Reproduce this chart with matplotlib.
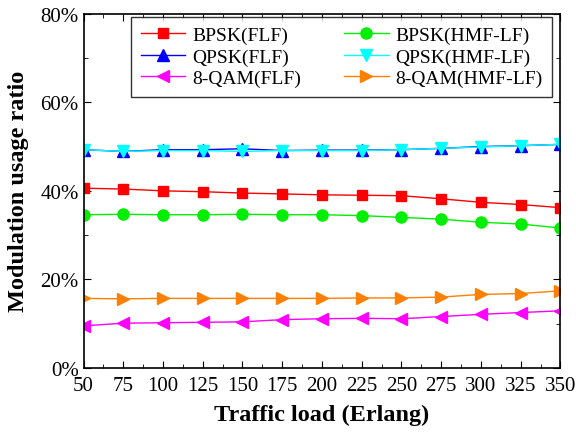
import numpy as np
import matplotlib
matplotlib.use("Agg")
import matplotlib.pyplot as plt
from matplotlib.ticker import MultipleLocator, PercentFormatter

plt.rcParams['font.family'] = ['Liberation Serif', 'DejaVu Serif']

load = [50, 75, 100, 125, 150, 175, 200, 225, 250, 275, 300, 325, 350]

# modulation usage ratio (%)
bpsk_flf = [40.6, 40.4, 40.0, 39.8, 39.5, 39.3, 39.1, 39.0, 38.9, 38.2, 37.4, 36.9, 36.2]
bpsk_hmf = [34.6, 34.7, 34.6, 34.6, 34.7, 34.6, 34.6, 34.4, 34.0, 33.6, 32.9, 32.5, 31.6]
qpsk_flf = [49.3, 48.9, 49.3, 49.3, 49.5, 49.1, 49.2, 49.2, 49.3, 49.6, 50.0, 50.2, 50.5]
qpsk_hmf = [49.3, 48.9, 49.1, 49.1, 48.9, 49.1, 49.1, 49.1, 49.3, 49.6, 49.9, 50.2, 50.5]
qam8_flf = [9.5, 10.1, 10.2, 10.3, 10.4, 10.9, 11.1, 11.2, 11.1, 11.6, 12.1, 12.5, 12.9]
qam8_hmf = [15.7, 15.6, 15.7, 15.7, 15.7, 15.7, 15.7, 15.8, 15.8, 16.0, 16.6, 16.8, 17.4]

fig = plt.figure(figsize=(5.76, 4.35), dpi=100)
ax = fig.add_axes([0.145, 0.152, 0.828, 0.814])

ms = 8
h1, = ax.plot(load, bpsk_flf, color='red', marker='s', ms=ms-1, lw=1, label='BPSK(FLF)')
h2, = ax.plot(load, bpsk_hmf, color='#00ee00', marker='o', ms=ms, lw=1, label='BPSK(HMF-LF)')
h3, = ax.plot(load, qpsk_flf, color='blue', marker='^', ms=ms, lw=1, label='QPSK(FLF)')
h4, = ax.plot(load, qpsk_hmf, color='cyan', marker='v', ms=ms, lw=1, label='QPSK(HMF-LF)')
h5, = ax.plot(load, qam8_flf, color='magenta', marker='<', ms=ms, lw=1, label='8-QAM(FLF)')
h6, = ax.plot(load, qam8_hmf, color='#ff8000', marker='>', ms=ms, lw=1, label='8-QAM(HMF-LF)')

ax.set_xlim(50, 350)
ax.set_ylim(0, 80)
ax.xaxis.set_major_locator(MultipleLocator(25))
ax.xaxis.set_minor_locator(MultipleLocator(12.5))
ax.yaxis.set_major_locator(MultipleLocator(20))
ax.yaxis.set_minor_locator(MultipleLocator(10))
ax.yaxis.set_major_formatter(PercentFormatter(decimals=0))
ax.tick_params(which='both', direction='in', top=True, right=True, labelsize=15)
ax.tick_params(which='major', length=5)
ax.tick_params(which='minor', length=3)
ax.tick_params(axis='x', which='major', pad=6)
for s in ax.spines.values():
    s.set_linewidth(1.2)

ax.set_xlabel('Traffic load (Erlang)', fontsize=17.5, fontweight='bold', labelpad=6)
ax.set_ylabel('Modulation usage ratio', fontsize=17.5, fontweight='bold', labelpad=8)

# row-wise order like the original legend
handles = [h1, h3, h5, h2, h4, h6]
leg = ax.legend(handles=handles, labels=[h.get_label() for h in handles], ncol=2,
                loc='upper right', bbox_to_anchor=(0.983, 0.992), fontsize=14,
                frameon=True, fancybox=False, edgecolor='black', handlelength=2.3,
                borderpad=0.5, labelspacing=0.2, columnspacing=2.2, handletextpad=0.35,
                borderaxespad=0)
leg.get_frame().set_linewidth(1.0)

fig.savefig('out.png', dpi=100)
